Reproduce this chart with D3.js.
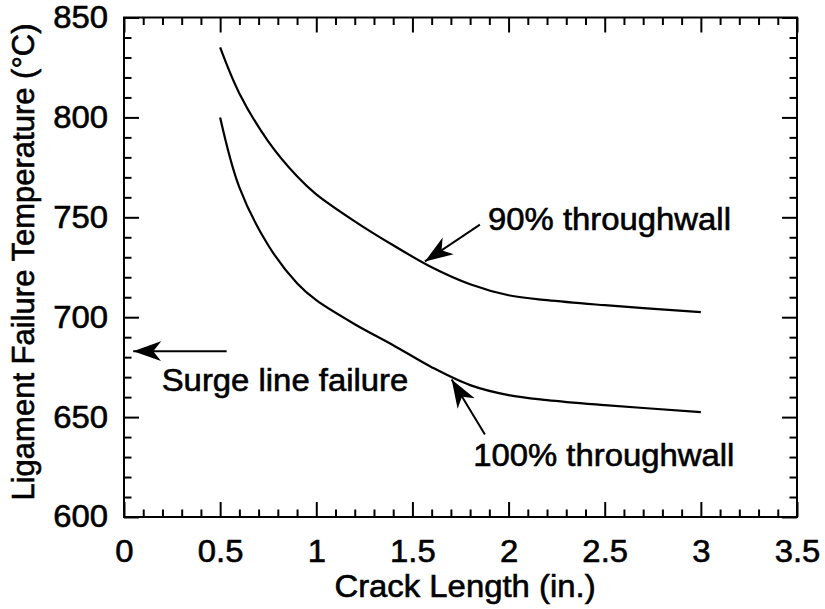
<!DOCTYPE html>
<html>
<head>
<meta charset="utf-8">
<script src="https://cdn.jsdelivr.net/npm/d3@7"></script>
<style>
  html, body { margin: 0; padding: 0; background: #fff; }
  svg { display: block; }
  text { font-family: "Liberation Sans", Arial, Helvetica, sans-serif; fill: #000; }
</style>
</head>
<body>
<svg id="chart" width="825" height="609"></svg>
<script>
// ---- data ----
const crackLength = [0.5, 0.6, 0.75, 0.9, 1.0, 1.2, 1.4, 1.6, 1.8, 2.0, 2.2, 2.5, 3.0];
const temp90 =  [835, 812, 788, 770.5, 761.5, 748, 736, 725, 716.5, 711, 708.5, 706, 702.5];
const temp100 = [800, 765, 736, 717, 708.5, 696.5, 686, 675, 666, 661, 658.5, 656, 652.5];
const xTickLabels = [0, 0.5, 1, 1.5, 2, 2.5, 3, 3.5];
const yTickLabels = [600, 650, 700, 750, 800, 850];
const surgeLineTemp = 683;
const annotationTexts = ["Surge line failure", "90% throughwall", "100% throughwall"];

// ---- layout ----
const svg = d3.select("#chart");
const margin = { left: 124, top: 17.5, right: 825 - 797, bottom: 609 - 517 };
const W = 825 - margin.left - margin.right;
const H = 609 - margin.top - margin.bottom;
const g = svg.append("g").attr("transform", `translate(${margin.left},${margin.top})`);

const x = d3.scaleLinear().domain([0, 3.5]).range([0, W]);
const y = d3.scaleLinear().domain([600, 850]).range([H, 0]);

const FS = 31;
const WIDEN = 1.06;
const minorX = d3.range(0, 3.5001, 0.1).map(v => +v.toFixed(2)).filter(v => !xTickLabels.some(t => Math.abs(t - v) < 1e-6));
const minorY = d3.range(600, 851, 10).filter(v => !yTickLabels.includes(v));

function heavy(sel, widen) {
  sel.attr("stroke", "#000").attr("stroke-width", 0.6);
  if (widen) {
    sel.each(function () {
      const w = this.getComputedTextLength();
      d3.select(this).attr("textLength", w * WIDEN).attr("lengthAdjust", "spacingAndGlyphs");
    });
  }
}

function style(sel) {
  sel.select(".domain").remove();
  sel.selectAll(".tick line").attr("stroke", "#000").attr("stroke-width", 2);
  sel.selectAll(".tick text").attr("font-size", FS).attr("font-family", "Liberation Sans, Arial, sans-serif").attr("fill", "#000")
    .call(heavy, true);
}

// bottom
g.append("g").attr("transform", `translate(0,${H})`)
  .call(d3.axisBottom(x).tickValues(xTickLabels).tickFormat(d3.format("")).tickSize(-15).tickSizeOuter(0).tickPadding(23))
  .call(style);
g.append("g").attr("transform", `translate(0,${H})`)
  .call(d3.axisBottom(x).tickValues(minorX).tickFormat("").tickSize(-7.5).tickSizeOuter(0))
  .call(style);
// top
g.append("g")
  .call(d3.axisTop(x).tickValues(xTickLabels).tickFormat("").tickSize(-15).tickSizeOuter(0))
  .call(style);
g.append("g")
  .call(d3.axisTop(x).tickValues(minorX).tickFormat("").tickSize(-7.5).tickSizeOuter(0))
  .call(style);
// left
g.append("g")
  .call(d3.axisLeft(y).tickValues(yTickLabels).tickFormat(d3.format("d")).tickSize(-15).tickSizeOuter(0).tickPadding(16))
  .call(style);
g.append("g")
  .call(d3.axisLeft(y).tickValues(minorY).tickFormat("").tickSize(-7.5).tickSizeOuter(0))
  .call(style);
// right
g.append("g").attr("transform", `translate(${W},0)`)
  .call(d3.axisRight(y).tickValues(yTickLabels).tickFormat("").tickSize(-15).tickSizeOuter(0))
  .call(style);
g.append("g").attr("transform", `translate(${W},0)`)
  .call(d3.axisRight(y).tickValues(minorY).tickFormat("").tickSize(-7.5).tickSizeOuter(0))
  .call(style);

// frame
g.append("rect").attr("x", 0).attr("y", 0).attr("width", W).attr("height", H)
  .attr("fill", "none").attr("stroke", "#000").attr("stroke-width", 2);

// curves
const line = d3.line().x(d => x(d[0])).y(d => y(d[1])).curve(d3.curveCatmullRom.alpha(0.5));
[temp90, temp100].forEach(series => {
  g.append("path")
    .datum(crackLength.map((c, i) => [c, series[i]]))
    .attr("d", line)
    .attr("fill", "none").attr("stroke", "#000").attr("stroke-width", 2.2);
});

// arrow marker
svg.append("defs").append("marker")
  .attr("id", "ah").attr("markerUnits", "userSpaceOnUse")
  .attr("markerWidth", 30).attr("markerHeight", 22)
  .attr("refX", 28).attr("refY", 11).attr("orient", "auto")
  .append("path").attr("d", "M0,1 L28,11 L0,21 L8,11 Z").attr("fill", "#000");

// annotations (data coordinates)
const arrows = [
  { from: [0.534, surgeLineTemp], to: [0.048, surgeLineTemp] },
  { from: [1.851, 746.3], to: [1.565, 727.9] },
  { from: [1.877, 641.3], to: [1.704, 668.8] }
];
arrows.forEach(a => {
  g.append("line")
    .attr("x1", x(a.from[0])).attr("y1", y(a.from[1]))
    .attr("x2", x(a.to[0])).attr("y2", y(a.to[1]))
    .attr("stroke", "#000").attr("stroke-width", 2)
    .attr("marker-end", "url(#ah)");
});

const labelPos = [[0.196, 662.9], [1.893, 743.8], [1.816, 625.3]];
annotationTexts.forEach((t, i) => {
  g.append("text")
    .attr("x", x(labelPos[i][0])).attr("y", y(labelPos[i][1]))
    .attr("font-size", FS)
    .text(t)
    .call(heavy, true);
});

// axis titles
svg.append("text")
  .attr("x", 465).attr("y", 597)
  .attr("text-anchor", "middle").attr("font-size", FS)
  .text("Crack Length (in.)")
  .call(heavy, true);
svg.append("text")
  .attr("transform", "translate(34,262) rotate(-90)")
  .attr("text-anchor", "middle").attr("font-size", FS)
  .text("Ligament Failure Temperature (°C)")
  .call(heavy, false);
</script>
</body>
</html>
